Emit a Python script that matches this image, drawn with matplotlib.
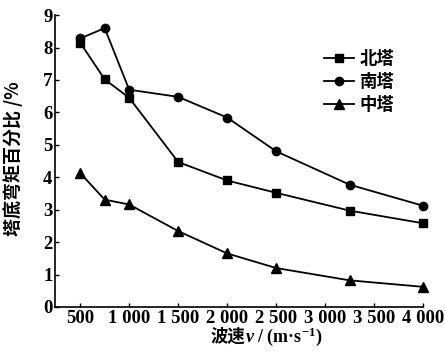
import matplotlib
matplotlib.use("Agg")
import matplotlib.pyplot as plt
from matplotlib.offsetbox import TextArea, HPacker, AnchoredOffsetbox

speeds = [500, 750, 1000, 1500, 2000, 2500, 3250, 4000]
north = [8.15, 7.02, 6.45, 4.47, 3.90, 3.52, 2.97, 2.58]
south = [8.28, 8.60, 6.70, 6.48, 5.84, 4.80, 3.77, 3.12]
middle = [4.13, 3.31, 3.16, 2.34, 1.65, 1.20, 0.82, 0.62]
xticks = [500, 1000, 1500, 2000, 2500, 3000, 3500, 4000]
xticklabels = ["500", "1 000", "1 500", "2 000", "2 500", "3 000", "3 500", "4 000"]
yticks = list(range(10))
names = ["北塔", "南塔", "中塔"]

plt.rcParams["mathtext.fontset"] = "custom"
plt.rcParams["mathtext.rm"] = "Liberation Serif:bold"
plt.rcParams["mathtext.it"] = "Liberation Serif:italic:bold"

cjk = ["Noto Sans CJK SC", "DejaVu Sans"]
serif = "Liberation Serif"

fig = plt.figure(figsize=(4.45, 3.52), dpi=100)
ax = fig.add_axes([0.124, 0.128, 0.827, 0.829])

kw = dict(color="black", lw=1.3, clip_on=False)
ax.plot(speeds, north, marker="s", ms=5.5, label=names[0], **kw)
ax.plot(speeds, south, marker="o", ms=6, label=names[1], **kw)
ax.plot(speeds, middle, marker="^", ms=6.5, label=names[2], **kw)

ax.set_xlim(245, 4000)
ax.set_ylim(0, 9)
ax.set_xticks(xticks)
ax.set_xticklabels(xticklabels, fontfamily=serif, fontweight="bold", fontsize=13.5)
ax.set_yticks(yticks)
ax.set_yticklabels([str(v) for v in yticks], fontfamily=serif, fontweight="bold", fontsize=13.5)
ax.tick_params(direction="in", length=3, width=1, pad=2)
for s in ["top", "right"]:
    ax.spines[s].set_visible(False)
for s in ["left", "bottom"]:
    ax.spines[s].set_linewidth(1.2)

ax.set_ylabel("塔底弯矩百分比 /%", fontfamily=cjk, fontweight="bold", fontsize=13)
ax.yaxis.set_label_coords(-0.088, 0.508)

# x label: Chinese part + serif part with italic v and superscript
t1 = TextArea("波速", textprops=dict(family=cjk, weight="bold", size=12.5))
t2 = TextArea("$\\mathit{v}$ / (m·s$^{-1}$)", textprops=dict(family=serif, weight="bold", size=13))
box = HPacker(children=[t1, t2], align="baseline", pad=0, sep=0)
anch = AnchoredOffsetbox(loc="center", child=box, bbox_to_anchor=(0.573, -0.102),
                         bbox_transform=ax.transAxes, frameon=False, pad=0, borderpad=0)
ax.add_artist(anch)

leg = ax.legend(loc="upper right", bbox_to_anchor=(0.945, 0.91), frameon=False,
                prop=dict(family=cjk, weight="bold", size=12.5), handlelength=1.75,
                handletextpad=0.3, labelspacing=0.3, borderpad=0)

fig.savefig("out.png", dpi=100)
